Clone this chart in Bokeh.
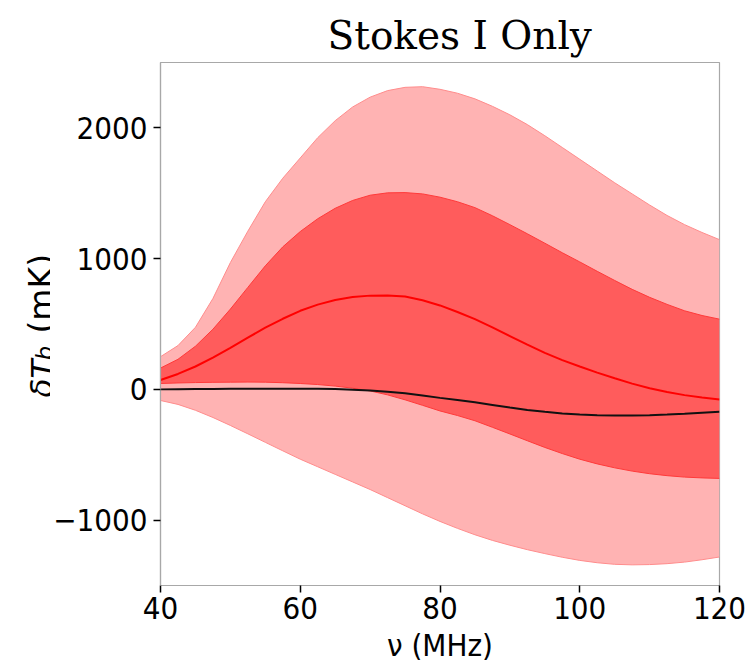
import math
from bokeh.plotting import figure
from bokeh.layouts import row
from bokeh.models import Range1d, FixedTicker
from bokeh.core.properties import value
from bokeh.embed import file_html
from bokeh.resources import INLINE

# frequency grid (MHz)
freq = [40, 42.5, 45, 47.5, 50, 52.5, 55, 57.5, 60, 62.5, 65, 67.5, 70, 72.5, 75, 77.5, 80,
        82.5, 85, 87.5, 90, 92.5, 95, 97.5, 100, 102.5, 105, 107.5, 110, 112.5, 115, 117.5, 120]
# outer (light) band
outer_hi = [250, 335, 475, 695, 970, 1210, 1435, 1615, 1770, 1925, 2055, 2160, 2235, 2285, 2310, 2315, 2295,
            2265, 2222, 2165, 2100, 2025, 1940, 1850, 1760, 1670, 1580, 1495, 1410, 1330, 1260, 1200, 1145]
outer_lo = [-85, -115, -160, -215, -276, -340, -405, -470, -534, -592, -650, -708, -766, -828, -890, -952, -1010,
            -1063, -1112, -1155, -1192, -1226, -1256, -1284, -1308, -1326, -1338, -1342, -1340, -1333, -1321, -1303, -1282]
# inner (dark) band
inner_hi = [163, 230, 330, 460, 614, 780, 945, 1090, 1207, 1305, 1385, 1445, 1485, 1503, 1505, 1495, 1470,
            1435, 1390, 1328, 1260, 1190, 1118, 1045, 975, 903, 833, 765, 704, 650, 601, 565, 537]
inner_lo = [45, 49, 52, 54, 55, 56, 55, 51, 45, 37, 25, 9, -12, -42, -80, -122, -165,
            -200, -240, -290, -341, -393, -444, -491, -534, -570, -600, -625, -645, -660, -671, -677, -681]
# mean curve (red) and reference curve (black)
mean_curve = [72, 118, 175, 243, 317, 395, 472, 540, 601, 648, 684, 706, 717, 718, 710, 682, 642,
              592, 537, 474, 408, 342, 279, 224, 175, 128, 85, 44, 8, -20, -44, -62, -77]
ref_curve = [0, 1, 2, 3, 4, 5, 5, 5, 5, 4, 2, -2, -8, -18, -30, -46, -65,
             -82, -99, -119, -139, -157, -172, -184, -192, -197, -199, -199, -197, -192, -186, -179, -172]

x_ticks = [40, 60, 80, 100, 120]
y_ticks = [-1000, 0, 1000, 2000]
y_tick_labels = {-1000: "\u22121000", 0: "0", 1000: "1000", 2000: "2000"}

TICK_FONT = "DejaVu Sans Condensed, DejaVu Sans"

# ---- main plot ----
p = figure(width=700, height=665, output_backend="svg", toolbar_location=None,
           x_range=Range1d(40, 120), y_range=Range1d(-1500, 2500),
           min_border_left=110, min_border_right=31, min_border_top=62, min_border_bottom=80)

p.varea(x=freq, y1=outer_lo, y2=outer_hi, fill_color="#ffb3b3", fill_alpha=1.0)
p.varea(x=freq, y1=inner_lo, y2=inner_hi, fill_color="#ff5c5c", fill_alpha=1.0)
for arr, col in [(outer_hi, "#ff8c8c"), (outer_lo, "#ff8c8c"), (inner_hi, "#ff3a3a"), (inner_lo, "#ff3a3a")]:
    p.line(freq, arr, line_color=col, line_width=1)
p.line(freq, mean_curve, line_color="#ff0000", line_width=2)
p.line(freq, ref_curve, line_color="#111111", line_width=2)

p.grid.visible = False
p.outline_line_color = "#a8a8a8"
p.outline_line_width = 1.2

for ax in (p.xaxis[0], p.yaxis[0]):
    ax.axis_line_color = "#a8a8a8"
    ax.axis_line_width = 1.2
    ax.major_tick_line_color = "#000000"
    ax.major_tick_line_width = 1.5
    ax.major_tick_out = 7
    ax.major_tick_in = 0
    ax.minor_tick_line_color = None
    ax.major_label_text_font = TICK_FONT
    ax.major_label_text_font_size = "31px"
    ax.major_label_text_color = "#000000"

p.xaxis[0].ticker = FixedTicker(ticks=x_ticks)
p.yaxis[0].ticker = FixedTicker(ticks=y_ticks)
p.yaxis[0].major_label_overrides = y_tick_labels
p.xaxis[0].major_label_standoff = 4
p.yaxis[0].major_label_standoff = 6

p.xaxis[0].axis_label = "\u03bd (MHz)"
p.xaxis[0].axis_label_text_font = TICK_FONT
p.xaxis[0].axis_label_text_font_size = "31px"
p.xaxis[0].axis_label_text_font_style = "normal"
p.xaxis[0].axis_label_text_color = "#000000"
p.xaxis[0].axis_label_standoff = 5

p.title.text = "Stokes I Only"
p.title.text_font = "DejaVu Serif"
p.title.text_font_size = "39px"
p.title.text_font_style = "normal"
p.title.text_color = "#000000"
p.title.align = "left"
p.title.offset = 167
p.title.standoff = 10

# ---- y-axis label strip (text with subscript) ----
# this strip's frame is aligned with the main frame (canvas rows 62..585),
# so its y range is set so that data y = 665 - canvas row
yl = figure(width=50, height=665, output_backend="svg", toolbar_location=None,
            x_axis_type=None, y_axis_type=None,
            x_range=Range1d(0, 50), y_range=Range1d(80, 603),
            min_border=0, min_border_left=0, min_border_right=0, min_border_top=0, min_border_bottom=0)
yl.grid.visible = False
yl.outline_line_color = None
ang = math.pi / 2
yl.text(x=[41], y=[268], text=["\u03b4T"], angle=ang, text_font=value("DejaVu Sans"),
        text_font_style="italic", text_font_size="31px", text_align="left",
        text_baseline="alphabetic", text_color="#000000")
yl.text(x=[44], y=[305], text=["b"], angle=ang, text_font=value("DejaVu Sans"),
        text_font_style="italic", text_font_size="23px", text_align="left",
        text_baseline="alphabetic", text_color="#000000")
yl.text(x=[41], y=[332], text=["(mK)"], angle=ang, text_font=value("DejaVu Sans"),
        text_font_style="normal", text_font_size="33px", text_align="left",
        text_baseline="alphabetic", text_color="#000000")

layout = row(yl, p, spacing=0)
open("out.html", "w").write(file_html(layout, INLINE))
